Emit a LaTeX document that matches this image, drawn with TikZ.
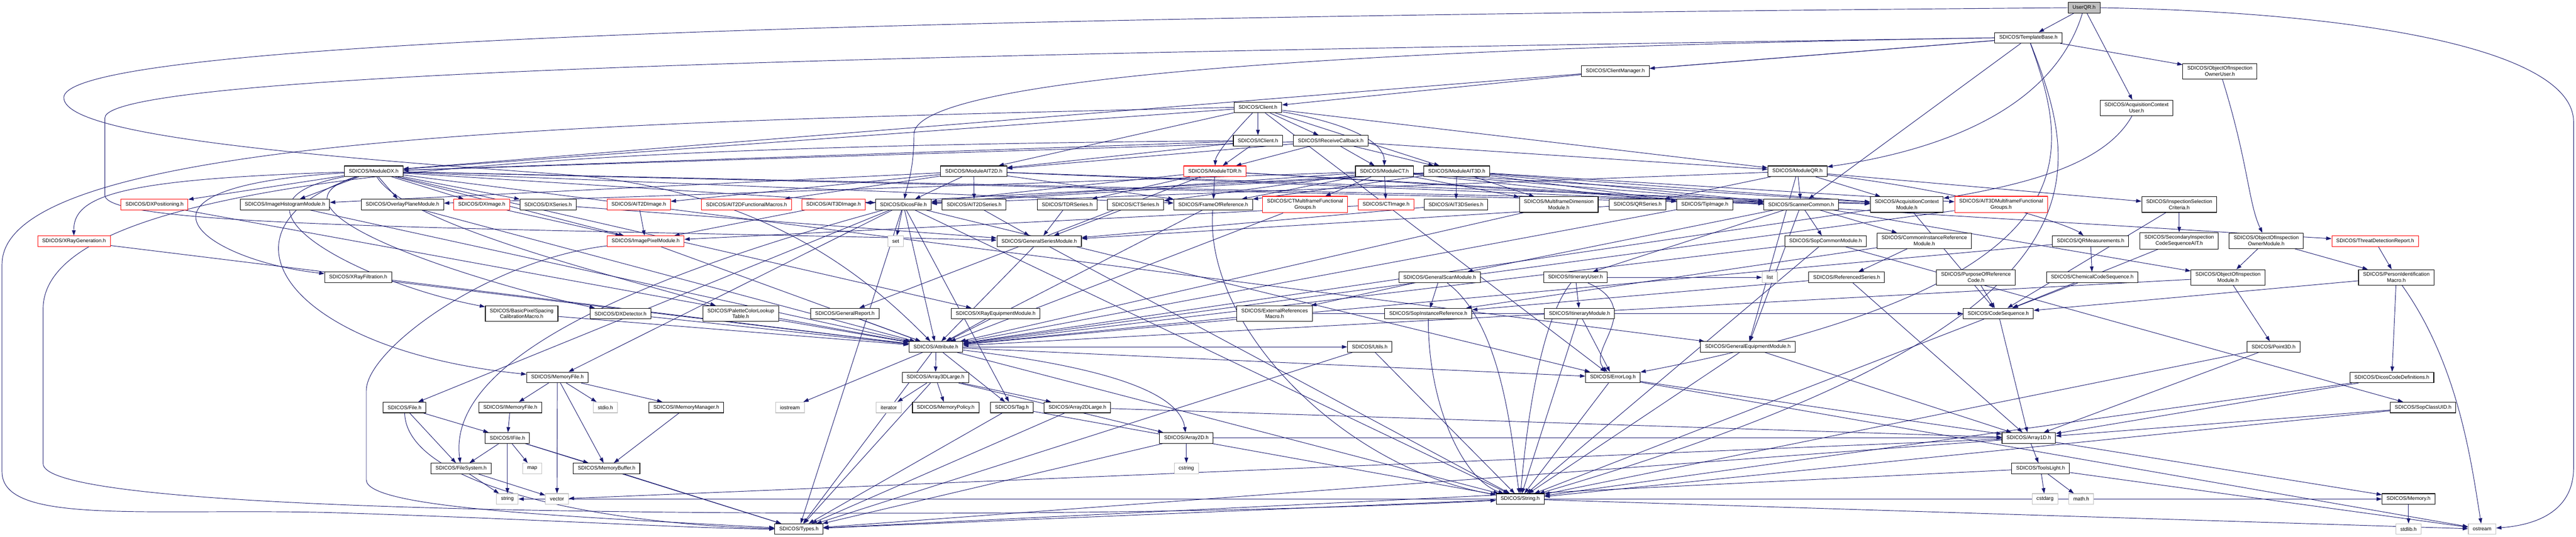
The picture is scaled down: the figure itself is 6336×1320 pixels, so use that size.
\documentclass[tikz,border=0pt]{standalone}
\usepackage{fontspec}
\setmainfont{Liberation Sans}
\usepackage{tikz}
\usetikzlibrary{arrows.meta,backgrounds}
\definecolor{edgeblue}{RGB}{25,25,112}
\definecolor{sysgray}{RGB}{191,191,191}

\begin{document}
\begin{tikzpicture}[
    x=1pt, y=-1pt,
    box/.style={rectangle, draw=black, fill=white, line width=1.4pt, minimum height=26pt, inner xsep=11pt, inner ysep=7pt, align=center, font=\fontsize{12.7pt}{14.7pt}\selectfont},
    redbox/.style={box, draw=red},
    sysbox/.style={box, draw=sysgray},
    rootbox/.style={box, fill=sysgray},
    arrow/.style={-{Stealth[length=13pt, width=9pt, inset=0pt]}, draw=edgeblue, line width=1.2pt}
]
\useasboundingbox (0,0) rectangle (6336,1320);

\node[rootbox] (userqr) at (5126,19) {UserQR.h};
\node[box] (tmpl) at (4989,93) {SDICOS/TemplateBase.h};
\node[box] (clmgr) at (3973,175) {SDICOS/ClientManager.h};
\node[box] (oiouser) at (5460,175) {SDICOS/ObjectOfInspection\\OwnerUser.h};
\node[box] (client) at (3094,264) {SDICOS/Client.h};
\node[box] (acqctxuser) at (5255,265) {SDICOS/AcquisitionContext\\User.h};
\node[box] (iclient) at (3094,346) {SDICOS/IClient.h};
\node[box] (ircb) at (3273,346) {SDICOS/IReceiveCallback.h};

\node[box] (moddx) at (919,421) {SDICOS/ModuleDX.h};
\node[box] (modait2d) at (2395,421) {SDICOS/ModuleAIT2D.h};
\node[redbox] (modtdr) at (2988,421) {SDICOS/ModuleTDR.h};
\node[box] (modct) at (3405,421) {SDICOS/ModuleCT.h};
\node[box] (modait3d) at (3583,421) {SDICOS/ModuleAIT3D.h};
\node[box] (modqr) at (4421,421) {SDICOS/ModuleQR.h};

\node[redbox] (dxpos) at (380,503) {SDICOS/DXPositioning.h};
\node[box] (imghist) at (701,503) {SDICOS/ImageHistogramModule.h};
\node[box] (overlay) at (990,503) {SDICOS/OverlayPlaneModule.h};
\node[redbox] (dximg) at (1185,503) {SDICOS/DXImage.h};
\node[box] (dxser) at (1348,503) {SDICOS/DXSeries.h};
\node[redbox] (ait2dimg) at (1571,503) {SDICOS/AIT2DImage.h};
\node[redbox] (ait2dfm) at (1836,503) {SDICOS/AIT2DFunctionalMacros.h};
\node[redbox] (ait3dimg) at (2050,503) {SDICOS/AIT3DImage.h};
\node[box] (dcmfile) at (2222,503) {SDICOS/DicosFile.h};
\node[box] (ait2dser) at (2396,503) {SDICOS/AIT2DSeries.h};
\node[box] (tdrser) at (2625,503) {SDICOS/TDRSeries.h};
\node[box] (ctser) at (2793,503) {SDICOS/CTSeries.h};
\node[box] (frameref) at (2984,503) {SDICOS/FrameOfReference.h};
\node[redbox] (ctmf) at (3210,503) {SDICOS/CTMultiframeFunctional\\Groups.h};
\node[redbox] (ctimg) at (3409,503) {SDICOS/CTImage.h};
\node[box] (ait3dser) at (3581,503) {SDICOS/AIT3DSeries.h};
\node[box] (mfdim) at (3834,503) {SDICOS/MultiframeDimension\\Module.h};
\node[box] (qrser) at (4028,503) {SDICOS/QRSeries.h};
\node[box] (tipimg) at (4193,503) {SDICOS/TipImage.h};
\node[box] (scanner) at (4430,503) {SDICOS/ScannerCommon.h};
\node[box] (acqctx) at (4690,503) {SDICOS/AcquisitionContext\\Module.h};
\node[redbox] (ait3dmf) at (4922,503) {SDICOS/AIT3DMultiframeFunctional\\Groups.h};
\node[box] (inspsel) at (5360,503) {SDICOS/InspectionSelection\\Criteria.h};

\node[redbox] (xraygen) at (182,593) {SDICOS/XRayGeneration.h};
\node[redbox] (imgpix) at (1588,593) {SDICOS/ImagePixelModule.h};
\node[sysbox] (set) at (2203,593) {set};
\node[box] (genser) at (2556,593) {SDICOS/GeneralSeriesModule.h};
\node[box] (sopcommon) at (4490,593) {SDICOS/SopCommonModule.h};
\node[box] (cir) at (4733,592) {SDICOS/CommonInstanceReference\\Module.h};
\node[box] (qrmeas) at (5142,593) {SDICOS/QRMeasurements.h};
\node[box] (secinsp) at (5360,592) {SDICOS/SecondaryInspection\\CodeSequenceAIT.h};
\node[box] (oiomodown) at (5574,592) {SDICOS/ObjectOfInspection\\OwnerModule.h};
\node[redbox] (tdreport) at (5842,593) {SDICOS/ThreatDetectionReport.h};

\node[box] (xrayfilt) at (881,682) {SDICOS/XRayFiltration.h};
\node[box] (gscan) at (3541,682) {SDICOS/GeneralScanModule.h};
\node[box] (ituser) at (3875,682) {SDICOS/ItineraryUser.h};
\node[sysbox] (list) at (4353,682) {list};
\node[box] (refser) at (4542,682) {SDICOS/ReferencedSeries.h};
\node[box] (purpose) at (4860,682) {SDICOS/PurposeOfReference\\Code.h};
\node[box] (chemcode) at (5146,682) {SDICOS/ChemicalCodeSequence.h};
\node[box] (oiomod) at (5480,682) {SDICOS/ObjectOfInspection\\Module.h};
\node[box] (personid) at (5894,682) {SDICOS/PersonIdentification\\Macro.h};

\node[box] (basicpix) at (1283,771) {SDICOS/BasicPixelSpacing\\CalibrationMacro.h};
\node[box] (dxdet) at (1526,771) {SDICOS/DXDetector.h};
\node[box] (palette) at (1822,771) {SDICOS/PaletteColorLookup\\Table.h};
\node[box] (genreport) at (2078,771) {SDICOS/GeneralReport.h};
\node[box] (xrayequip) at (2449,771) {SDICOS/XRayEquipmentModule.h};
\node[box] (extref) at (3135,771) {SDICOS/ExternalReferences\\Macro.h};
\node[box] (sopinst) at (3513,771) {SDICOS/SopInstanceReference.h};
\node[box] (itmod) at (3885,771) {SDICOS/ItineraryModule.h};
\node[box] (codeseq) at (4915,771) {SDICOS/CodeSequence.h};

\node[box] (attr) at (2302,853) {SDICOS/Attribute.h};
\node[box] (utils) at (3369,853) {SDICOS/Utils.h};
\node[box] (genequip) at (4299,853) {SDICOS/GeneralEquipmentModule.h};
\node[box] (point3d) at (5592,853) {SDICOS/Point3D.h};

\node[box] (memfile) at (1371,928) {SDICOS/MemoryFile.h};
\node[box] (arr3dl) at (2301,928) {SDICOS/Array3DLarge.h};
\node[box] (errorlog) at (3967,928) {SDICOS/ErrorLog.h};
\node[box] (dicoscode) at (5883,928) {SDICOS/DicosCodeDefinitions.h};

\node[box] (file) at (995,1002) {SDICOS/File.h};
\node[box] (imemfile) at (1255,1002) {SDICOS/IMemoryFile.h};
\node[sysbox] (stdio) at (1489,1002) {stdio.h};
\node[box] (imemmgr) at (1688,1002) {SDICOS/IMemoryManager.h};
\node[sysbox] (iostream) at (1943,1002) {iostream};
\node[sysbox] (iterator) at (2186,1002) {iterator};
\node[box] (mempolicy) at (2326,1002) {SDICOS/MemoryPolicy.h};
\node[box] (tag) at (2489,1002) {SDICOS/Tag.h};
\node[box] (arr2dl) at (2650,1002) {SDICOS/Array2DLarge.h};
\node[box] (sopclass) at (5960,1002) {SDICOS/SopClassUID.h};

\node[box] (ifile) at (1248,1077) {SDICOS/IFile.h};
\node[box] (arr2d) at (2918,1077) {SDICOS/Array2D.h};
\node[box] (arr1d) at (4990,1077) {SDICOS/Array1D.h};

\node[box] (filesys) at (1134,1152) {SDICOS/FileSystem.h};
\node[sysbox] (map) at (1309,1152) {map};
\node[box] (membuf) at (1492,1152) {SDICOS/MemoryBuffer.h};
\node[sysbox] (cstring) at (2918,1152) {cstring};
\node[box] (tools) at (5019,1152) {SDICOS/ToolsLight.h};

\node[sysbox] (string) at (1248,1227) {string};
\node[sysbox] (vector) at (1370,1227) {vector};
\node[box] (strh) at (3739,1227) {SDICOS/String.h};
\node[sysbox] (cstdarg) at (5030,1227) {cstdarg};
\node[sysbox] (mathh) at (5119,1227) {math.h};
\node[box] (memory) at (5924,1227) {SDICOS/Memory.h};

\node[box] (types) at (1965,1301) {SDICOS/Types.h};
\node[sysbox] (stdlib) at (5924,1301) {stdlib.h};
\node[sysbox] (ostream) at (6105,1301) {ostream};

\begin{scope}[on background layer]
\fill[white] (0,0) rectangle (6336,1320);

\draw[arrow] (userqr) -- (tmpl);
\draw[arrow] (userqr) .. controls (5040,300) and (4700,380) .. (modqr);
\draw[arrow] (userqr) -- (acqctxuser);
\draw[arrow] (userqr.east) .. controls (5800,30) and (6330,120) .. (6330,300) -- (6330,1150) .. controls (6330,1250) and (6250,1290) .. (ostream);
\draw[arrow] (userqr.west) .. controls (2500,40) and (157,90) .. (157,240) .. controls (157,330) and (700,380) .. (1400,430) .. controls (1900,470) and (2150,700) .. (attr);
\draw[arrow] (tmpl) -- (clmgr);
\draw[arrow] (tmpl) -- (oiouser);
\draw[arrow] (tmpl) -- (scanner);
\draw[arrow] (tmpl.west) .. controls (3200,120) and (2248,200) .. (2248,330) .. controls (2248,420) and (2230,460) .. (dcmfile);
\draw[arrow] (tmpl.west) .. controls (2500,130) and (258,170) .. (258,290) -- (258,480) .. controls (258,560) and (1200,560) .. (genser);
\draw[arrow] (tmpl) -- (moddx);
\draw[arrow] (tmpl) .. controls (5100,400) and (5150,700) .. (errorlog);
\draw[arrow] (tmpl) .. controls (5130,450) and (5200,800) .. (strh);
\draw[arrow] (clmgr) -- (client);
\draw[arrow] (client) -- (iclient);
\draw[arrow] (client) .. controls (3030,330) and (2990,380) .. (modtdr);
\draw[arrow] (client) -- (modait2d);
\draw[arrow] (client) -- (moddx);
\draw[arrow] (client) -- (ircb);
\draw[arrow] (client) .. controls (3350,310) and (3405,360) .. (modct);
\draw[arrow] (client) -- (modait3d);
\draw[arrow] (client) -- (modqr);
\draw[arrow] (client.west) .. controls (1500,300) and (5,330) .. (5,650) -- (5,1160) .. controls (5,1290) and (350,1250) .. (800,1260) .. controls (1300,1275) and (1700,1300) .. (types);
\draw[arrow] (client) -- (errorlog);
\draw[arrow] (iclient) -- (modait2d);
\draw[arrow] (iclient) -- (moddx);
\draw[arrow] (iclient) -- (modtdr);
\draw[arrow] (iclient.west) .. controls (1400,360) and (106,420) .. (106,760) -- (106,1140) .. controls (106,1230) and (1000,1262) .. (2200,1262) .. controls (3000,1262) and (3500,1240) .. (strh);
\draw[arrow] (ircb) -- (modct);
\draw[arrow] (ircb) -- (modait3d);
\draw[arrow] (ircb) -- (moddx);
\draw[arrow] (ircb) -- (modait2d);
\draw[arrow] (ircb) -- (modqr);
\draw[arrow] (ircb) -- (modtdr);
\draw[arrow] (oiouser) .. controls (5530,400) and (5530,500) .. (oiomodown);
\draw[arrow] (acqctxuser) .. controls (5180,400) and (5000,450) .. (acqctx);

\draw[arrow] (moddx) -- (dxpos);
\draw[arrow] (moddx) -- (imghist);
\draw[arrow] (moddx) -- (overlay);
\draw[arrow] (moddx) -- (dximg);
\draw[arrow] (moddx) -- (dxser);
\draw[arrow] (moddx) .. controls (300,440) and (180,480) .. (xraygen);
\draw[arrow] (moddx) .. controls (250,460) and (500,640) .. (xrayfilt);
\draw[arrow] (moddx) .. controls (500,500) and (900,700) .. (basicpix);
\draw[arrow] (moddx) .. controls (600,520) and (1200,700) .. (dxdet);
\draw[arrow] (moddx) .. controls (1000,560) and (1600,700) .. (palette);
\draw[arrow] (moddx) -- (dcmfile);
\draw[arrow] (moddx) -- (frameref);
\draw[arrow] (moddx) -- (scanner);
\draw[arrow] (moddx) -- (acqctx);
\draw[arrow] (moddx) -- (imgpix);
\draw[arrow] (moddx) -- (genequip);
\draw[arrow] (moddx) -- (xrayequip);
\draw[arrow] (moddx) .. controls (500,560) and (700,860) .. (memfile);
\draw[arrow] (modait2d) -- (ait2dser);
\draw[arrow] (modait2d) -- (ait2dimg);
\draw[arrow] (modait2d) -- (ait2dfm);
\draw[arrow] (modait2d) -- (dcmfile);
\draw[arrow] (modait2d) -- (frameref);
\draw[arrow] (modait2d) -- (scanner);
\draw[arrow] (modait2d) -- (acqctx);
\draw[arrow] (modait2d) -- (imghist);
\draw[arrow] (modtdr) -- (tdrser);
\draw[arrow] (modtdr) -- (frameref);
\draw[arrow] (modtdr) -- (dcmfile);
\draw[arrow] (modtdr) -- (tdreport);
\draw[arrow] (modtdr) -- (scanner);
\draw[arrow] (modtdr) -- (genreport);
\draw[arrow] (modct) -- (ctimg);
\draw[arrow] (modct) -- (ctser);
\draw[arrow] (modct) -- (ctmf);
\draw[arrow] (modct) -- (mfdim);
\draw[arrow] (modct) -- (frameref);
\draw[arrow] (modct) -- (dcmfile);
\draw[arrow] (modct) -- (scanner);
\draw[arrow] (modct) -- (acqctx);
\draw[arrow] (modct) -- (tipimg);
\draw[arrow] (modct) -- (overlay);
\draw[arrow] (modait3d) -- (ait3dser);
\draw[arrow] (modait3d) -- (ait3dimg);
\draw[arrow] (modait3d) -- (ait3dmf);
\draw[arrow] (modait3d) -- (mfdim);
\draw[arrow] (modait3d) -- (dcmfile);
\draw[arrow] (modait3d) -- (frameref);
\draw[arrow] (modait3d) -- (scanner);
\draw[arrow] (modait3d) -- (acqctx);
\draw[arrow] (modait3d) -- (tipimg);
\draw[arrow] (modqr) -- (qrser);
\draw[arrow] (modqr) -- (scanner);
\draw[arrow] (modqr) -- (acqctx);
\draw[arrow] (modqr) .. controls (4900,480) and (5100,560) .. (qrmeas);
\draw[arrow] (modqr) -- (dcmfile);
\draw[arrow] (modqr) -- (inspsel);
\draw[arrow] (modqr) -- (genequip);

\draw[arrow] (dximg) -- (imgpix);
\draw[arrow] (ait2dimg) -- (imgpix);
\draw[arrow] (ait3dimg) -- (imgpix);
\draw[arrow] (ctimg) -- (imgpix);
\draw[arrow] (dxser) -- (genser);
\draw[arrow] (ait2dser) -- (genser);
\draw[arrow] (tdrser) -- (genser);
\draw[arrow] (ctser) -- (genser);
\draw[arrow] (ait3dser) -- (genser);
\draw[arrow] (qrser) -- (genser);
\draw[arrow] (imghist) -- (attr);
\draw[arrow] (overlay) -- (attr);
\draw[arrow] (dxpos) -- (attr);
\draw[arrow] (xraygen) -- (attr);
\draw[arrow] (imgpix) -- (attr);
\draw[arrow] (imgpix) .. controls (1200,640) and (901,860) .. (901,960) -- (901,1180) .. controls (901,1250) and (1400,1270) .. (types);
\draw[arrow] (frameref) -- (attr);
\draw[arrow] (frameref) .. controls (2960,800) and (3300,1150) .. (strh);
\draw[arrow] (ctmf) -- (attr);
\draw[arrow] (ait3dmf) -- (attr);
\draw[arrow] (mfdim) -- (attr);
\draw[arrow] (tipimg) -- (attr);
\draw[arrow] (scanner) -- (sopcommon);
\draw[arrow] (scanner) -- (cir);
\draw[arrow] (scanner) -- (gscan);
\draw[arrow] (scanner) -- (ituser);
\draw[arrow] (scanner) -- (oiomod);
\draw[arrow] (scanner) -- (genequip);
\draw[arrow] (acqctx) -- (codeseq);
\draw[arrow] (acqctx) -- (attr);
\draw[arrow] (inspsel) -- (secinsp);
\draw[arrow] (inspsel) -- (codeseq);
\draw[arrow] (dcmfile) -- (set);
\draw[arrow] (dcmfile) -- (attr);
\draw[arrow] (dcmfile) -- (tag);
\draw[arrow] (dcmfile) -- (file);
\draw[arrow] (dcmfile) -- (memfile);
\draw[arrow] (dcmfile) -- (types);
\draw[arrow] (dcmfile) -- (strh);
\draw[arrow] (dcmfile) -- (errorlog);
\draw[arrow] (dcmfile) .. controls (1500,700) and (1100,900) .. (filesys);
\draw[arrow] (genser) -- (attr);
\draw[arrow] (genser) -- (strh);
\draw[arrow] (sopcommon) -- (sopclass);
\draw[arrow] (sopcommon) -- (attr);
\draw[arrow] (sopcommon) -- (strh);
\draw[arrow] (cir) -- (refser);
\draw[arrow] (cir) -- (sopinst);
\draw[arrow] (qrmeas) -- (chemcode);
\draw[arrow] (qrmeas) -- (attr);
\draw[arrow] (secinsp) -- (codeseq);
\draw[arrow] (oiomodown) -- (personid);
\draw[arrow] (oiomodown) -- (oiomod);
\draw[arrow] (tdreport) -- (personid);
\draw[arrow] (gscan) -- (sopinst);
\draw[arrow] (gscan) -- (extref);
\draw[arrow] (gscan) .. controls (3700,800) and (3720,1100) .. (strh);
\draw[arrow] (ituser) -- (itmod);
\draw[arrow] (ituser) .. controls (4050,760) and (3900,860) .. (errorlog);
\draw[arrow] (ituser) .. controls (3780,800) and (3750,1100) .. (strh);
\draw[arrow] (ituser) -- (list);
\draw[arrow] (refser) -- (arr1d);
\draw[arrow] (refser) -- (sopinst);
\draw[arrow] (purpose) -- (codeseq);
\draw[arrow] (chemcode) -- (codeseq);
\draw[arrow] (oiomod) -- (point3d);
\draw[arrow] (oiomod) -- (attr);
\draw[arrow] (personid) -- (dicoscode);
\draw[arrow] (personid) -- (codeseq);
\draw[arrow] (personid) .. controls (6050,900) and (6080,1150) .. (ostream);
\draw[arrow] (basicpix) -- (attr);
\draw[arrow] (dxdet) -- (attr);
\draw[arrow] (palette) -- (attr);
\draw[arrow] (genreport) -- (attr);
\draw[arrow] (xrayequip) -- (attr);
\draw[arrow] (xrayfilt) -- (attr);
\draw[arrow] (extref) -- (attr);
\draw[arrow] (extref) -- (codeseq);
\draw[arrow] (sopinst) .. controls (3513,1000) and (3600,1180) .. (strh);
\draw[arrow] (itmod) -- (strh);
\draw[arrow] (itmod) -- (errorlog);
\draw[arrow] (codeseq) -- (strh);
\draw[arrow] (codeseq) -- (arr1d);
\draw[arrow] (genequip) -- (arr1d);
\draw[arrow] (genequip) -- (strh);
\draw[arrow] (point3d) -- (strh);
\draw[arrow] (point3d) -- (arr1d);
\draw[arrow] (dicoscode) -- (strh);
\draw[arrow] (dicoscode) -- (arr1d);
\draw[arrow] (sopclass) -- (strh);
\draw[arrow] (sopclass) -- (arr1d);

\draw[arrow] (attr) -- (arr3dl);
\draw[arrow] (attr) -- (tag);
\draw[arrow] (attr) .. controls (2700,900) and (2900,960) .. (arr2d);
\draw[arrow] (attr) -- (utils);
\draw[arrow] (attr) -- (errorlog);
\draw[arrow] (attr) -- (types);
\draw[arrow] (attr) -- (strh);
\draw[arrow] (attr) -- (iostream);
\draw[arrow] (arr3dl) -- (iterator);
\draw[arrow] (arr3dl) -- (mempolicy);
\draw[arrow] (arr3dl) -- (arr2dl);
\draw[arrow] (arr3dl) -- (arr2d);
\draw[arrow] (arr3dl) -- (types);
\draw[arrow] (tag) -- (types);
\draw[arrow] (tag) -- (strh);
\draw[arrow] (arr2dl) -- (types);
\draw[arrow] (arr2dl) -- (arr1d);
\draw[arrow] (arr2d) -- (cstring);
\draw[arrow] (arr2d) -- (arr1d);
\draw[arrow] (arr2d) -- (types);
\draw[arrow] (utils) -- (strh);
\draw[arrow] (utils) -- (types);
\draw[arrow] (errorlog) -- (strh);
\draw[arrow] (errorlog) -- (arr1d);
\draw[arrow] (errorlog) -- (ostream);
\draw[arrow] (memfile) -- (imemfile);
\draw[arrow] (memfile) -- (stdio);
\draw[arrow] (memfile) -- (vector);
\draw[arrow] (memfile) -- (membuf);
\draw[arrow] (memfile) -- (imemmgr);
\draw[arrow] (imemfile) -- (ifile);
\draw[arrow] (imemmgr) -- (membuf);
\draw[arrow] (file) -- (ifile);
\draw[arrow] (file) -- (filesys);
\draw[arrow] (file) .. controls (1000,1200) and (1500,1290) .. (types);
\draw[arrow] (ifile) -- (filesys);
\draw[arrow] (ifile) -- (string);
\draw[arrow] (ifile) -- (map);
\draw[arrow] (ifile) -- (membuf);
\draw[arrow] (ifile) -- (types);
\draw[arrow] (filesys) -- (string);
\draw[arrow] (filesys) -- (vector);
\draw[arrow] (membuf) -- (types);
\draw[arrow] (strh) -- (types);
\draw[arrow] (strh) -- (string);
\draw[arrow] (strh) -- (memory);
\draw[arrow] (strh) -- (ostream);
\draw[arrow] (arr1d) -- (tools);
\draw[arrow] (arr1d) -- (memory);
\draw[arrow] (arr1d) -- (types);
\draw[arrow] (arr1d) -- (vector);
\draw[arrow] (tools) -- (cstdarg);
\draw[arrow] (tools) -- (mathh);
\draw[arrow] (tools) -- (types);
\draw[arrow] (tools) -- (ostream);
\draw[arrow] (memory) -- (stdlib);
\end{scope}
\end{tikzpicture}
\end{document}
